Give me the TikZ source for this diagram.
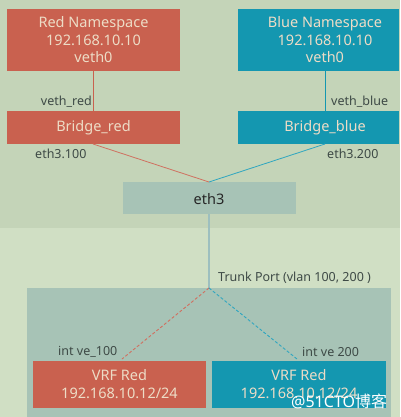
\documentclass[tikz,border=0pt]{standalone}
\usepackage{fontspec}
\setmainfont{Noto Sans}
\newfontfamily\cjk{Noto Sans CJK SC}
\definecolor{bgtop}{HTML}{C4D4B8}
\definecolor{bgbot}{HTML}{D0DFC4}
\definecolor{nsred}{HTML}{C9614F}
\definecolor{nsblue}{HTML}{1497B0}
\definecolor{graybox}{HTML}{A7C3B6}
\definecolor{boxtext}{HTML}{EDDCC6}
\definecolor{labtext}{HTML}{3E4A46}
\definecolor{trunkline}{HTML}{9DBFBF}
\definecolor{redline}{HTML}{D07060}
\definecolor{blueline}{HTML}{2FA6C0}
\begin{document}
\begin{tikzpicture}[x=1pt,y=-1pt,
  box/.style={draw=none,inner sep=0pt,text=boxtext,font=\fontsize{14.5}{17.5}\selectfont,align=center},
  lab/.style={inner sep=0pt,text=labtext,font=\fontsize{12.5}{14}\selectfont},
]
\useasboundingbox (0,0) rectangle (400,417);
\fill[bgtop] (0,0) rectangle (400,228);
\fill[bgbot] (0,228) rectangle (400,417);
\fill[graybox] (27,288) rectangle (391,417);
% boxes
\fill[nsred] (7,9) rectangle (180,71);
\node[box] (rns) at (93.5,40) {Red Namespace\\192.168.10.10\\veth0};
\fill[nsblue] (238,9) rectangle (399,71);
\node[box] (bns) at (325,40) {Blue Namespace\\192.168.10.10\\veth0};
\fill[nsred] (7,111) rectangle (180,144);
\node[box] (rbr) at (93.5,128) {Bridge\_red};
\fill[nsblue] (238,111) rectangle (399,144);
\node[box] (bbr) at (325,128) {Bridge\_blue};
\fill[graybox] (123,182) rectangle (296,214);
\node[box,text=black!85] (eth) at (209,199) {eth3};
\fill[nsred] (33,361) rectangle (206,408);
\node[box] (vr) at (119.5,384) {VRF Red\\192.168.10.12/24};
\fill[nsblue] (212,361) rectangle (386,408);
\node[box] (vb) at (299,384) {VRF Red\\192.168.10.12/24};
% coordinates
\coordinate (rnsb) at (93,71);
\coordinate (rbrt) at (93,111);
\coordinate (bnsb) at (325,71);
\coordinate (bbrt) at (325,111);
\coordinate (rbrb) at (93,144);
\coordinate (bbrb) at (325,144);
\coordinate (etht) at (209,182);
\coordinate (ethb) at (209,214);
\coordinate (trunk) at (209,288);
\coordinate (vrt) at (122,359);
\coordinate (vbt) at (297,359);
% connectors
\draw[nsred,line width=0.8pt] (rnsb) -- (rbrt);
\draw[nsblue,line width=0.8pt] (bnsb) -- (bbrt);
\draw[redline,line width=0.8pt] (rbrb) -- (etht);
\draw[blueline,line width=0.8pt] (bbrb) -- (etht);
\draw[trunkline,line width=2.5pt] (ethb) -- (trunk);
\draw[redline,line width=0.9pt,dash pattern=on 3pt off 2pt] (trunk) -- (vrt);
\draw[blueline,line width=0.9pt,dash pattern=on 3pt off 2pt] (trunk) -- (vbt);
% labels
\node[lab,anchor=east] (lvr) at (92,102) {veth\_red};
\node[lab,anchor=west] (lvb) at (331,102) {veth\_blue};
\node[lab,anchor=west] (l100) at (35,154) {eth3.100};
\node[lab,anchor=west] (l200) at (327,154) {eth3.200};
\node[lab,anchor=west] (ltr) at (218,278) {Trunk Port (vlan 100, 200 )};
\node[lab,anchor=west] (li1) at (58,352) {int ve\_100};
\node[lab,anchor=west] (li2) at (302,352) {int ve 200};
% watermark
\node[inner sep=0pt,anchor=west,text=white,font=\fontsize{16}{18}\selectfont] (wm) at (291,401) {@51CTO{\cjk 博客}};
\end{tikzpicture}
\end{document}
